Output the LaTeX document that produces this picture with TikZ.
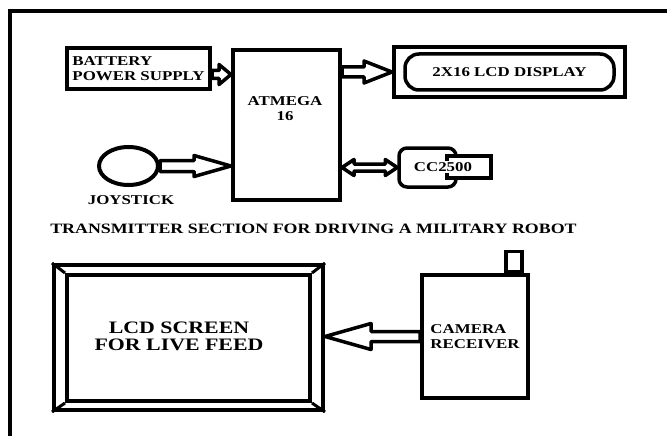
\documentclass[tikz,border=0pt]{standalone}
\usepackage{fontspec}
\setmainfont{Liberation Serif}[FakeStretch=1.25]
\usetikzlibrary{positioning,calc,shapes.geometric}

% hollow block arrow: #1 tail, #2 tip, #3 shaft half width, #4 head half width, #5 head length
\newcommand{\blockarrow}[5]{%
  \coordinate (ba) at ($(#2)!#5!(#1)$);
  \draw[arrowline] ($(#1)!#3!90:(#2)$) -- ($(ba)!#3!90:(#2)$) -- ($(ba)!#4!90:(#2)$) -- (#2)
    -- ($(ba)!#4!-90:(#2)$) -- ($(ba)!#3!-90:(#2)$) -- ($(#1)!#3!-90:(#2)$) -- cycle;}
% same with a head at both ends
\newcommand{\doublearrow}[5]{%
  \coordinate (da) at ($(#1)!#5!(#2)$);
  \coordinate (db) at ($(#2)!#5!(#1)$);
  \draw[arrowline] (#1) -- ($(da)!#4!90:(#2)$) -- ($(da)!#3!90:(#2)$) -- ($(db)!#3!90:(#2)$)
    -- ($(db)!#4!90:(#2)$) -- (#2) -- ($(db)!#4!-90:(#2)$) -- ($(db)!#3!-90:(#2)$)
    -- ($(da)!#3!-90:(#2)$) -- ($(da)!#4!-90:(#2)$) -- cycle;}

\begin{document}
\begin{tikzpicture}[x=1pt,y=-1pt,
txt/.style={font=\bfseries\fontsize{13.5}{15}\selectfont},
box/.style={draw,line width=4pt,inner sep=0pt,txt},
arrowline/.style={draw,line width=3.5pt,line join=round}]
\clip (0,0) rectangle (667,436);
\draw[line width=4pt] (10,11.5) rectangle (700,470);

% transmitter section
\node[box,minimum width=143pt,minimum height=41pt,align=left] (bat) at (138.5,68.5) {BATTERY\\POWER SUPPLY};
\node[box,minimum width=107pt,minimum height=150pt] (atm) at (286.5,125) {};
\node[txt,align=center] (atmlbl) at (285,109) {ATMEGA\\16};
\node[box,minimum width=231pt,minimum height=50pt] (lcd) at (509.5,72) {};
\node[box,line width=3.5pt,rounded corners=14pt,minimum width=209pt,minimum height=36pt] (lcdin) at (lcd.center) {2X16 LCD DISPLAY};
\node[box,line width=3.5pt,rounded corners=8pt,minimum width=57pt,minimum height=39pt] (cc) at (427.5,167.5) {};
\node[box,line width=3.5pt,fill=white,minimum width=44pt,minimum height=22pt] (cctab) at (469,167) {};
\node[txt,fill=white,inner sep=1pt] (cclbl) at (443,167) {CC2500};
\node[draw,ellipse,line width=4pt,minimum width=59pt,minimum height=38pt,inner sep=0pt] (joy) at (128.5,166) {};
\node[txt] (joylbl) at (131,200) {JOYSTICK};
\node[txt,font=\bfseries\fontsize{14.3}{15}\selectfont] (title) at (313.5,228.5) {TRANSMITTER SECTION FOR DRIVING A MILITARY ROBOT};

\coordinate[yshift=-6pt] (batout) at (bat.east);
\coordinate (batin) at (atm.west |- batout);
\coordinate (joyin) at (atm.west |- joy.east);
\coordinate (lcdout) at (atm.east |- lcd.west);
\coordinate (ccout) at (atm.east |- cc.west);
\blockarrow{batout}{batin}{4pt}{10pt}{12pt}
\blockarrow{joy.east}{joyin}{5.5pt}{10.5pt}{37pt}
\blockarrow{lcdout}{lcd.west}{5pt}{11pt}{28pt}
\doublearrow{ccout}{cc.west}{3.5pt}{8pt}{12pt}

% receiver section
\node[box,minimum width=269pt,minimum height=145pt] (scr) at (188.5,337.5) {};
\node[box,minimum width=243pt,minimum height=126pt] (scrin) at (188.5,338) {};
\foreach \c in {north west,north east,south west,south east}
  \draw[line width=3pt] (scr.\c) -- (scrin.\c);
\node[txt,font=\bfseries\fontsize{17.5}{17}\selectfont,align=center] (scrlbl) at (179,336) {LCD SCREEN\\FOR LIVE FEED};
\node[box,minimum width=106pt,minimum height=123pt,align=left] (cam) at (475,336.5) {CAMERA\\RECEIVER};
\node[box,line width=3.5pt,minimum width=16pt,minimum height=20pt,anchor=south] (ant) at ($(cam.north east)+(-16,0)$) {};
\coordinate (camtip) at (scr.east |- cam.west);
\blockarrow{cam.west}{camtip}{5pt}{13pt}{46pt}
\end{tikzpicture}
\end{document}
